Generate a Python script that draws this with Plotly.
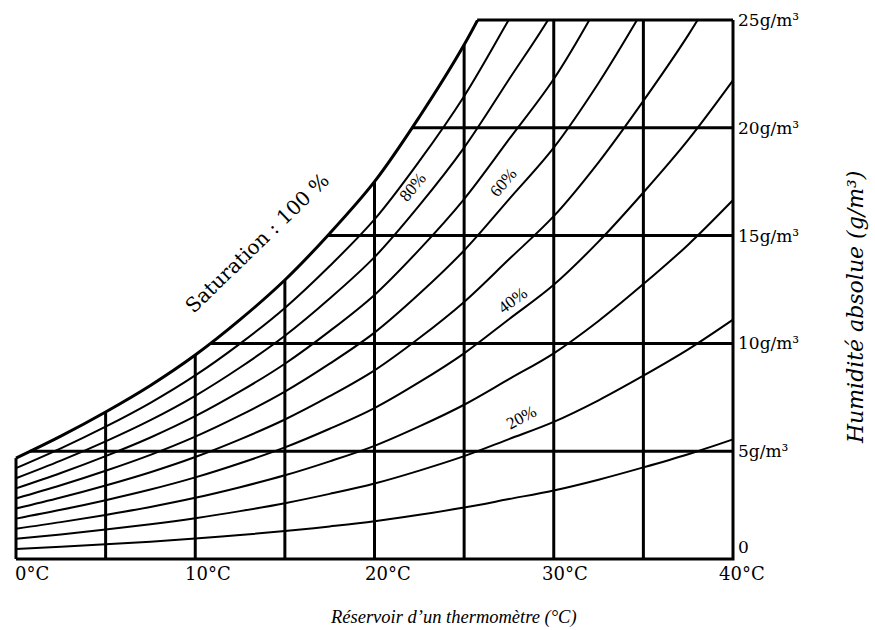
import numpy as np
import plotly.graph_objects as go

# ---- data ----
temps = [0, 2.5, 5, 7.5, 10, 12.5, 15, 17.5, 20, 22.5, 25, 27.5, 30, 32.5, 35, 37.5, 40]
saturation = [4.68, 5.70, 6.82, 8.05, 9.46, 11.10, 12.94, 15.10, 17.50, 20.50, 23.85, 27.80,
              31.80, 36.80, 42.50, 48.60, 55.50]
rh_levels = [10, 20, 30, 40, 50, 60, 70, 80, 90]
grid_temps = [5, 10, 15, 20, 25, 30, 35]
grid_hum = [5, 10, 15, 20]
x_ticks = [0, 10, 20, 30, 40]
x_tick_text = ["0°C", "10°C", "20°C", "30°C", "40°C"]
y_ticks = [0, 5, 10, 15, 20, 25]
y_tick_text = ["0", "5g/m³", "10g/m³", "15g/m³", "20g/m³", "25g/m³"]
curve_labels = ["80%", "60%", "40%", "20%"]
curve_label_x = [22.1, 27.2, 27.7, 28.2]
curve_label_y = [17.25, 17.45, 12.0, 6.55]
curve_label_angle = [-50, -50, -37, -28]

T_MAX = 40
H_MAX = 25

t = np.array(temps, dtype=float)
s = np.array(saturation, dtype=float)

fig = go.Figure()
BLACK = "#000000"

# relative humidity curves
for rh in rh_levels:
    fig.add_trace(go.Scatter(x=t, y=s * rh / 100.0, mode="lines",
                             line=dict(color=BLACK, width=2, shape="spline"),
                             hoverinfo="skip", showlegend=False))

# saturation curve (100 %)
fig.add_trace(go.Scatter(x=t, y=s, mode="lines",
                         line=dict(color=BLACK, width=3, shape="spline"),
                         hoverinfo="skip", showlegend=False))

# white mask above the top of the chart
fig.add_trace(go.Scatter(x=[-1, T_MAX + 1, T_MAX + 1, -1, -1],
                         y=[H_MAX, H_MAX, H_MAX + 3, H_MAX + 3, H_MAX],
                         mode="lines", fill="toself", fillcolor="white",
                         line=dict(width=0, color="white"),
                         hoverinfo="skip", showlegend=False))

# vertical grid lines up to the saturation curve
vx, vy = [], []
for T in grid_temps:
    top = min(float(np.interp(T, t, s)), H_MAX)
    vx += [T, T, None]
    vy += [0, top, None]
fig.add_trace(go.Scatter(x=vx, y=vy, mode="lines", line=dict(color=BLACK, width=3),
                         hoverinfo="skip", showlegend=False))

# horizontal grid lines from the saturation curve
hx, hy = [], []
for H in grid_hum:
    start = float(np.interp(H, s, t))
    hx += [start, T_MAX, None]
    hy += [H, H, None]
fig.add_trace(go.Scatter(x=hx, y=hy, mode="lines", line=dict(color=BLACK, width=3),
                         hoverinfo="skip", showlegend=False))

# frame
t_top = float(np.interp(H_MAX, s, t))
fx = [0, 0, None, 0, T_MAX, T_MAX, None, t_top, T_MAX]
fy = [s[0], 0, None, 0, 0, H_MAX, None, H_MAX, H_MAX]
fig.add_trace(go.Scatter(x=fx, y=fy, mode="lines", line=dict(color=BLACK, width=3),
                         hoverinfo="skip", showlegend=False))

SERIF = "DejaVu Serif"
TIMES = "Liberation Serif"

ann = []
x_label_shift = [16, 13, 13, 11, 9]
for xv, txt, sh in zip(x_ticks, x_tick_text, x_label_shift):
    ann.append(dict(x=xv, y=0, xref="x", yref="y", text=txt, showarrow=False,
                    xanchor="center", yanchor="middle", xshift=sh, yshift=-14,
                    font=dict(family=SERIF, size=18, color=BLACK)))
for yv, txt in zip(y_ticks, y_tick_text):
    ann.append(dict(x=T_MAX, y=yv, xref="x", yref="y", text=txt, showarrow=False,
                    xanchor="left", yanchor="middle", xshift=3,
                    yshift=12 if yv == 0 else 0,
                    font=dict(family=SERIF, size=17, color=BLACK)))
for txt, lx, ly, ang in zip(curve_labels, curve_label_x, curve_label_y, curve_label_angle):
    ann.append(dict(x=lx, y=ly, xref="x", yref="y", text=txt, showarrow=False,
                    textangle=ang, font=dict(family=TIMES, size=17, color=BLACK)))
ann.append(dict(x=13.44, y=14.66, xref="x", yref="y", text="Saturation : 100 %",
                showarrow=False, textangle=-44,
                font=dict(family=SERIF, size=20, color=BLACK)))
ann.append(dict(x=0.6075, y=-0.0964, xref="paper", yref="paper",
                text="<i>Réservoir d’un thermomètre (°C)</i>", showarrow=False,
                xanchor="center", yanchor="middle",
                font=dict(family=TIMES, size=18.5, color=BLACK)))
ann.append(dict(x=1.1537, y=0.467, xref="paper", yref="paper",
                text="<i>Humidité absolue (g/m³)</i>", showarrow=False, textangle=-90,
                xanchor="center", yanchor="middle",
                font=dict(family=SERIF, size=22, color=BLACK)))

fig.update_layout(
    width=875, height=630,
    margin=dict(l=7, r=133, t=14, b=66),
    paper_bgcolor="white", plot_bgcolor="white",
    showlegend=False,
    annotations=ann,
    xaxis=dict(range=[-0.502, 40.502], showgrid=False, zeroline=False, showline=False,
               showticklabels=False, ticks="", automargin=False),
    yaxis=dict(range=[-0.232, 25.278], showgrid=False, zeroline=False, showline=False,
               showticklabels=False, ticks="", automargin=False),
)

fig.write_html("out.html", config={"displayModeBar": False},
               post_script="document.body.style.margin='0';")
